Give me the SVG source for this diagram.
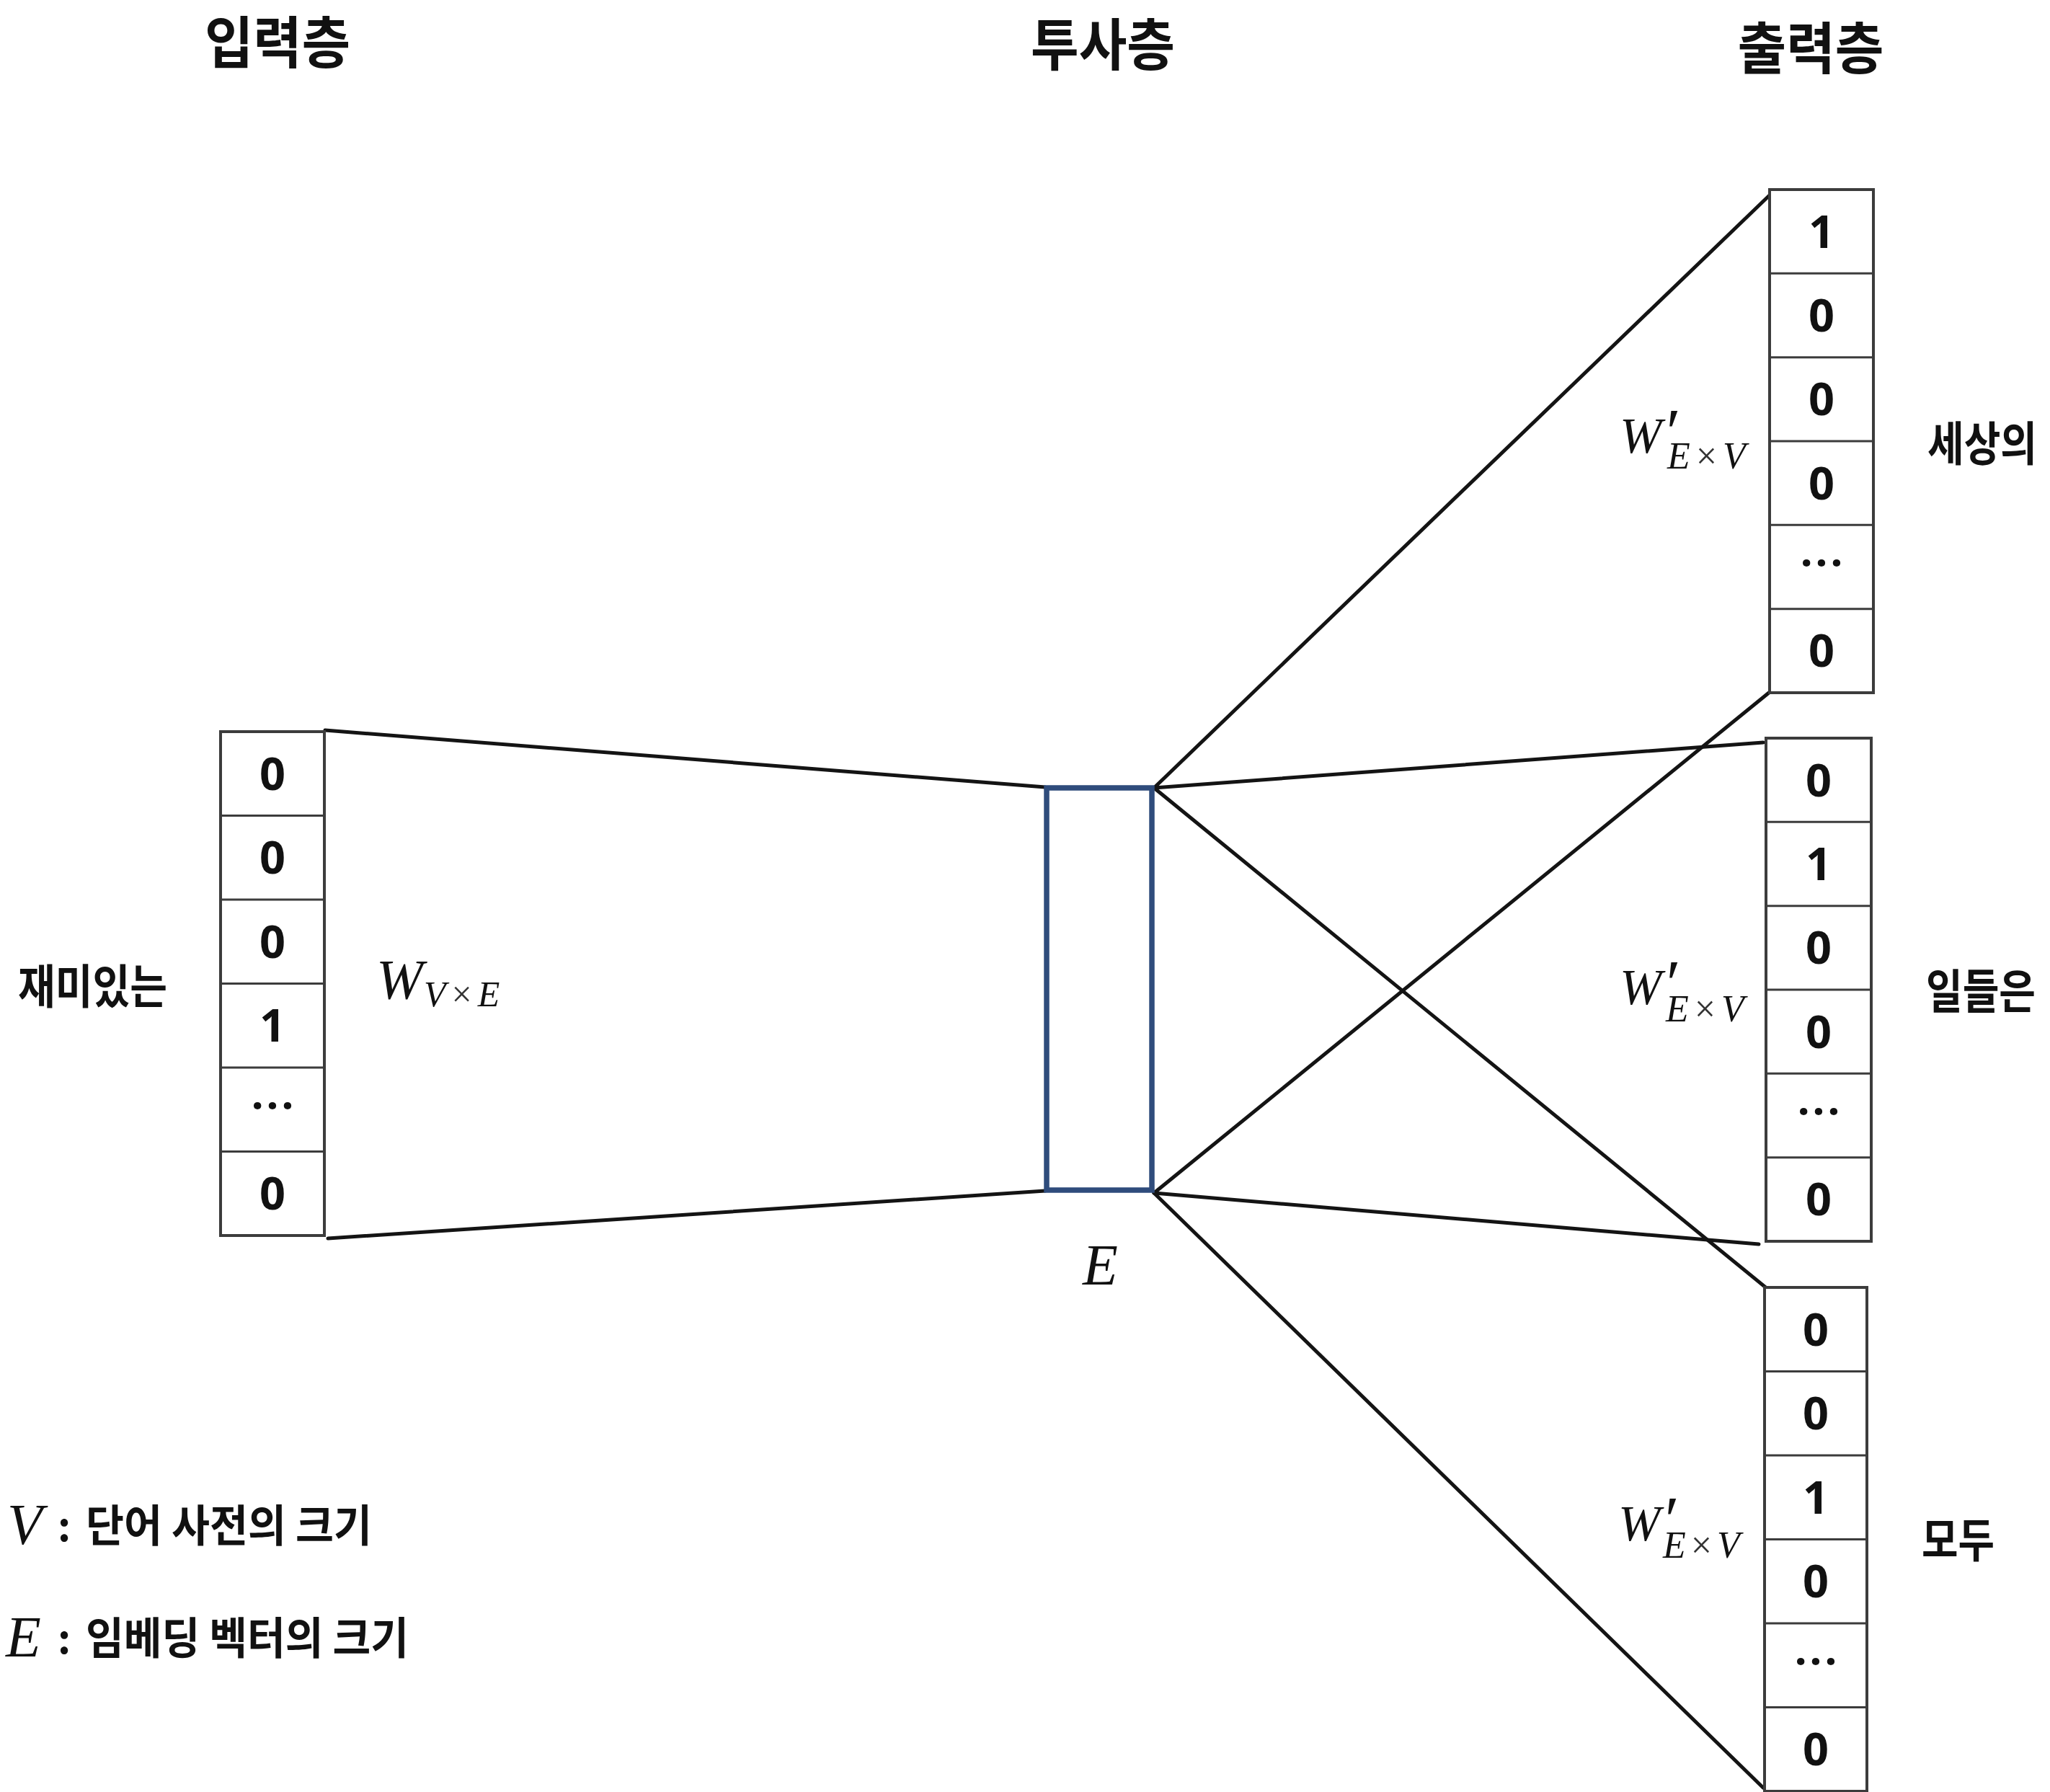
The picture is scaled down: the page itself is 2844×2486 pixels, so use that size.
<svg xmlns="http://www.w3.org/2000/svg" width="2844" height="2486" viewBox="0 0 2844 2486">
<style>
.bg{fill:#ffffff}
.cellbox{fill:#ffffff;stroke:#3c3c3c;stroke-width:4}
.div{stroke:#3c3c3c;stroke-width:3}
.proj{fill:#ffffff;stroke:#2f4c7c;stroke-width:7.5}
.conn{stroke:#141414;stroke-width:5;fill:none;stroke-linecap:round}
.num{font-family:"Noto Sans","Liberation Sans",sans-serif;font-weight:700;font-size:63px;fill:#111;text-anchor:middle}
.dots{font-family:"Noto Sans","Liberation Sans",sans-serif;font-weight:700;font-size:60px;fill:#111;text-anchor:middle;letter-spacing:4px}
.kr{font-family:"Noto Sans CJK KR","Noto Sans",sans-serif;font-weight:700;fill:#111}
.mi{font-family:"Liberation Serif","DejaVu Serif",serif;font-style:italic;fill:#111}
.mo{font-family:"Liberation Serif","DejaVu Serif",serif;font-style:normal;fill:#333}
</style>
<rect class="bg" x="0" y="0" width="2844" height="2486"/>

<g id="headings">
  <text class="kr" font-size="68" text-anchor="middle" textLength="202" lengthAdjust="spacingAndGlyphs" transform="translate(385,88) scale(1,1.15)">입력층</text>
  <text class="kr" font-size="68" text-anchor="middle" textLength="200" lengthAdjust="spacingAndGlyphs" transform="translate(1530,91) scale(1,1.15)">투사층</text>
  <text class="kr" font-size="68" text-anchor="middle" textLength="203" lengthAdjust="spacingAndGlyphs" transform="translate(2512,96) scale(1,1.15)">출력층</text>
</g>

<g id="connectors">
  <line class="conn" x1="451" y1="1013" x2="1450" y2="1092"/>
  <line class="conn" x1="455" y1="1718" x2="1450" y2="1652"/>
  <line class="conn" x1="1601" y1="1093" x2="2462" y2="264"/>
  <line class="conn" x1="1601" y1="1093" x2="2446" y2="1030"/>
  <line class="conn" x1="1601" y1="1093" x2="2452" y2="1788"/>
  <line class="conn" x1="1601" y1="1655" x2="2454" y2="961"/>
  <line class="conn" x1="1601" y1="1655" x2="2440" y2="1726"/>
  <line class="conn" x1="1601" y1="1655" x2="2446" y2="2480"/>
</g>

<g id="input-layer">
  <rect class="cellbox" x="306" y="1015" width="144" height="699"/>
  <line class="div" x1="306" y1="1131.5" x2="450" y2="1131.5"/>
  <line class="div" x1="306" y1="1248" x2="450" y2="1248"/>
  <line class="div" x1="306" y1="1364.5" x2="450" y2="1364.5"/>
  <line class="div" x1="306" y1="1481" x2="450" y2="1481"/>
  <line class="div" x1="306" y1="1597.5" x2="450" y2="1597.5"/>
  <text class="num" x="378" y="1096">0</text>
  <text class="num" x="378" y="1212">0</text>
  <text class="num" x="378" y="1329">0</text>
  <text class="num" x="378" y="1445">1</text>
  <text class="dots" x="380" y="1555">···</text>
  <text class="num" x="378" y="1678">0</text>
</g>
<g id="input-word">
  <text class="kr" font-size="56" textLength="207" lengthAdjust="spacingAndGlyphs" transform="translate(25,1392) scale(1,1.15)">재미있는</text>
</g>
<g id="w-input">
  <text class="mi" x="522" y="1385" font-size="78">W<tspan x="588" y="1396" font-size="50">V<tspan class="mo" dx="8">×</tspan><tspan dx="8">E</tspan></tspan></text>
</g>

<g id="projection-layer">
  <rect class="proj" x="1452" y="1093" width="146" height="558"/>
  <text class="mi" x="1502" y="1782" font-size="80">E</text>
</g>

<g id="output-1">
  <rect class="cellbox" x="2455" y="263" width="144" height="698"/>
  <line class="div" x1="2455" y1="379.3" x2="2599" y2="379.3"/>
  <line class="div" x1="2455" y1="495.7" x2="2599" y2="495.7"/>
  <line class="div" x1="2455" y1="612" x2="2599" y2="612"/>
  <line class="div" x1="2455" y1="728.3" x2="2599" y2="728.3"/>
  <line class="div" x1="2455" y1="844.7" x2="2599" y2="844.7"/>
  <text class="num" x="2527" y="344">1</text>
  <text class="num" x="2527" y="460">0</text>
  <text class="num" x="2527" y="576">0</text>
  <text class="num" x="2527" y="693">0</text>
  <text class="dots" x="2529" y="802">···</text>
  <text class="num" x="2527" y="925">0</text>
  <text class="kr" font-size="56" textLength="152" lengthAdjust="spacingAndGlyphs" transform="translate(2674,639) scale(1,1.15)">세상의</text>
  <text class="mi" x="2247" y="628" font-size="70">W<tspan x="2306" y="630" font-size="92">′</tspan><tspan x="2313" y="650" font-size="52">E<tspan class="mo" dx="8">×</tspan><tspan dx="8">V</tspan></tspan></text>
</g>

<g id="output-2">
  <rect class="cellbox" x="2450" y="1024" width="146" height="698"/>
  <line class="div" x1="2450" y1="1140.3" x2="2596" y2="1140.3"/>
  <line class="div" x1="2450" y1="1256.7" x2="2596" y2="1256.7"/>
  <line class="div" x1="2450" y1="1373" x2="2596" y2="1373"/>
  <line class="div" x1="2450" y1="1489.3" x2="2596" y2="1489.3"/>
  <line class="div" x1="2450" y1="1605.7" x2="2596" y2="1605.7"/>
  <text class="num" x="2523" y="1105">0</text>
  <text class="num" x="2523" y="1221">1</text>
  <text class="num" x="2523" y="1337">0</text>
  <text class="num" x="2523" y="1454">0</text>
  <text class="dots" x="2525" y="1563">···</text>
  <text class="num" x="2523" y="1686">0</text>
  <text class="kr" font-size="56" textLength="152" lengthAdjust="spacingAndGlyphs" transform="translate(2672,1399) scale(1,1.15)">일들은</text>
  <text class="mi" x="2247" y="1393" font-size="70">W<tspan x="2306" y="1395" font-size="92">′</tspan><tspan x="2311" y="1417" font-size="52">E<tspan class="mo" dx="8">×</tspan><tspan dx="8">V</tspan></tspan></text>
</g>

<g id="output-3">
  <rect class="cellbox" x="2448" y="1786" width="142" height="699"/>
  <line class="div" x1="2448" y1="1902.5" x2="2590" y2="1902.5"/>
  <line class="div" x1="2448" y1="2019" x2="2590" y2="2019"/>
  <line class="div" x1="2448" y1="2135.5" x2="2590" y2="2135.5"/>
  <line class="div" x1="2448" y1="2252" x2="2590" y2="2252"/>
  <line class="div" x1="2448" y1="2368.5" x2="2590" y2="2368.5"/>
  <text class="num" x="2519" y="1867">0</text>
  <text class="num" x="2519" y="1983">0</text>
  <text class="num" x="2519" y="2100">1</text>
  <text class="num" x="2519" y="2216">0</text>
  <text class="dots" x="2521" y="2326">···</text>
  <text class="num" x="2519" y="2449">0</text>
  <text class="kr" font-size="56" textLength="101" lengthAdjust="spacingAndGlyphs" transform="translate(2666,2160) scale(1,1.15)">모두</text>
  <text class="mi" x="2245" y="2137" font-size="70">W<tspan x="2304" y="2139" font-size="92">′</tspan><tspan x="2307" y="2161" font-size="52">E<tspan class="mo" dx="7">×</tspan><tspan dx="7">V</tspan></tspan></text>
</g>

<g id="legend">
  <text class="mi" x="10" y="2142" font-size="80">V<tspan class="kr" x="80" y="2138" font-size="56" font-style="normal">:</tspan></text>
  <text class="kr" font-size="53" textLength="397" lengthAdjust="spacingAndGlyphs" transform="translate(119,2139) scale(1,1.15)">단어 사전의 크기</text>
  <text class="mi" x="8" y="2298" font-size="80">E<tspan class="kr" x="80" y="2294" font-size="56" font-style="normal">:</tspan></text>
  <text class="kr" font-size="53" textLength="448" lengthAdjust="spacingAndGlyphs" transform="translate(119,2295) scale(1,1.15)">임베딩 벡터의 크기</text>
</g>
</svg>
